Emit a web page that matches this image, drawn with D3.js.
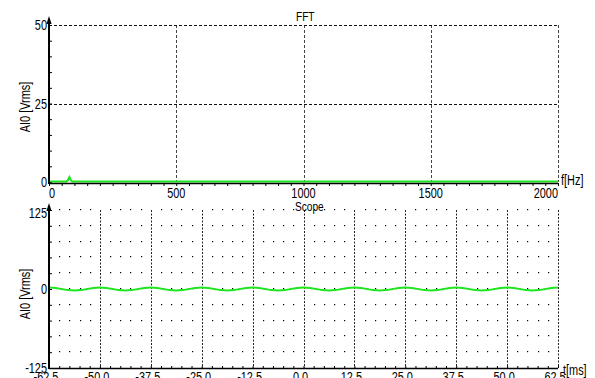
<!DOCTYPE html>
<html>
<head>
<meta charset="utf-8">
<script src="https://cdn.jsdelivr.net/npm/d3@7/dist/d3.min.js"></script>
<style>
  html, body { margin: 0; padding: 0; background: #fff; }
  svg { display: block; }
  text { font-family: "Liberation Sans", Arial, sans-serif; fill: #000; }
</style>
</head>
<body>
<svg id="chart" width="595" height="378"></svg>
<script>
// ---- FFT panel data: amplitude spectrum (Vrms) ----
const fftFreq = [0, 68, 74, 80, 86, 92, 2000];
const fftAmp  = [0, 0, 0.4, 1.4, 0.4, 0, 0];
const fftXTicks = [0, 500, 1000, 1500, 2000];
const fftYTicks = [0, 25, 50];

// ---- Scope panel data: AI0 samples, 1.5625 ms apart starting at -62.5 ms ----
const scopeStart = -62.5;
const scopeStep = 1.5625;
const scopeValues = [
  2.4, 1.7, 0, -1.7, -2.4, -1.7, 0, 1.7,
  2.4, 1.7, 0, -1.7, -2.4, -1.7, 0, 1.7,
  2.4, 1.7, 0, -1.7, -2.4, -1.7, 0, 1.7,
  2.4, 1.7, 0, -1.7, -2.4, -1.7, 0, 1.7,
  2.4, 1.7, 0, -1.7, -2.4, -1.7, 0, 1.7,
  2.4, 1.7, 0, -1.7, -2.4, -1.7, 0, 1.7,
  2.4, 1.7, 0, -1.7, -2.4, -1.7, 0, 1.7,
  2.4, 1.7, 0, -1.7, -2.4, -1.7, 0, 1.7,
  2.4, 1.7, 0, -1.7, -2.4, -1.7, 0, 1.7,
  2.4, 1.7, 0, -1.7, -2.4, -1.7, 0, 1.7,
  2.4
];
const scopeXTicks  = [-62.5, -50, -37.5, -25, -12.5, 0, 12.5, 25, 37.5, 50, 62.5];
const scopeXLabels = ["-62.5", "-50.0", "-37.5", "-25.0", "-12.5", "0.0", "12.5", "25.0", "37.5", "50.0", "62.5"];
const scopeYTicks  = [-125, 0, 125];

const GREEN = "#1ee61e";
const SX = 0.78;           // narrow lettering
const FS = 14;

const svg = d3.select("#chart");
const px = v => Math.round(v) + 0.5;

function label(g, x, y, txt, anchor, size, rot) {
  return g.append("text")
    .attr("transform", `translate(${x},${y})` + (rot ? ` rotate(${rot})` : "") + ` scale(${SX},1)`)
    .attr("text-anchor", anchor)
    .attr("font-size", size || FS)
    .text(txt);
}

function arrowUp(g, x, yTip) {
  g.append("path")
    .attr("d", `M${x},${yTip} L${x - 2.6},${yTip + 8} L${x + 2.6},${yTip + 8} Z`)
    .attr("fill", "#000");
}

// ================= FFT panel =================
const fx = d3.scaleLinear().domain([0, 2000]).range([49, 558]);
const fy = d3.scaleLinear().domain([0, 50]).range([182, 25]);
const gF = svg.append("g");

// dashed grid (incl. top and right border)
gF.selectAll("line.vg").data(fftXTicks.slice(1)).join("line")
  .attr("x1", d => px(fx(d))).attr("x2", d => px(fx(d)))
  .attr("y1", fy(50)).attr("y2", fy(0))
  .attr("stroke", "#444").attr("stroke-width", 1).attr("stroke-dasharray", "3,2");
gF.selectAll("line.hg").data(fftYTicks.slice(1)).join("line")
  .attr("x1", fx(0)).attr("x2", fx(2000))
  .attr("y1", d => px(fy(d))).attr("y2", d => px(fy(d)))
  .attr("stroke", "#111").attr("stroke-width", 1).attr("stroke-dasharray", "3,2");

// minor ticks via d3 axes
const fxMinor = d3.axisBottom(fx).tickValues(d3.range(0, 2001, 50)).tickSize(3).tickFormat("");
gF.append("g").attr("transform", "translate(0,183)").call(fxMinor)
  .call(g => g.select(".domain").remove())
  .call(g => g.selectAll("line").attr("stroke", "#000"));
const fyMinor = d3.axisRight(fy).tickValues(d3.range(0, 51, 5)).tickSize(3).tickFormat("");
gF.append("g").attr("transform", "translate(49,0)").call(fyMinor)
  .call(g => g.select(".domain").remove())
  .call(g => g.selectAll("line").attr("stroke", "#000"));

// spectrum
gF.append("path")
  .datum(fftFreq.map((f, i) => [f, fftAmp[i]]))
  .attr("d", d3.line().x(d => fx(d[0])).y(d => fy(d[1]) - 0.5))
  .attr("fill", "none").attr("stroke", GREEN).attr("stroke-width", 2);

// axis lines
gF.append("line").attr("x1", 49).attr("x2", 558).attr("y1", 183.5).attr("y2", 183.5)
  .attr("stroke", "#000").attr("stroke-width", 1.5);
gF.append("line").attr("x1", 49).attr("x2", 49).attr("y1", 184).attr("y2", 20)
  .attr("stroke", "#000").attr("stroke-width", 2);
arrowUp(gF, 49, 16);

// tick labels
fftYTicks.forEach(v => label(gF, 47, fy(v) + 5, String(v), "end"));
fftXTicks.forEach((v, i) => {
  const anchor = i === 0 ? "start" : (i === fftXTicks.length - 1 ? "end" : "middle");
  label(gF, fx(v), 198, String(v), anchor);
});
label(gF, 561, 185, "f[Hz]", "start");
label(gF, 296, 21, "FFT", "start", 13);
label(gF, 29.5, 107, "AI0 [Vrms]", "middle", 14, -90);

// ================= Scope panel =================
const sx = d3.scaleLinear().domain([-62.5, 62.5]).range([49, 558]);
const sy = d3.scaleLinear().domain([-125, 125]).range([368, 210]);
const gS = svg.append("g");

// dotted vertical division lines
gS.selectAll("line.vd").data(scopeXTicks.slice(1)).join("line")
  .attr("x1", d => px(sx(d))).attr("x2", d => px(sx(d)))
  .attr("y1", sy(125)).attr("y2", sy(-125))
  .attr("stroke", "#222").attr("stroke-width", 1).attr("stroke-dasharray", "2,1.5");

// dot rows at every y division, one dot per 2.5 ms
const dotRows = d3.range(-100, 126, 25);
const dotCols = d3.range(1, 50).filter(k => k % 5 !== 0).map(k => -62.5 + 2.5 * k);
dotRows.forEach(r => {
  gS.selectAll(null).data(dotCols).join("rect")
    .attr("x", d => Math.round(sx(d))).attr("y", Math.round(sy(r)) - 1)
    .attr("width", 1.2).attr("height", 1.2).attr("fill", "#000");
});

// axis ticks
const syMinor = d3.axisRight(sy).tickValues(d3.range(-125, 126, 25)).tickSize(3).tickFormat("");
gS.append("g").attr("transform", "translate(49,0)").call(syMinor)
  .call(g => g.select(".domain").remove())
  .call(g => g.selectAll("line").attr("stroke", "#000"));
const sxMinor = d3.axisTop(sx).tickValues(d3.range(-62.5, 62.6, 2.5)).tickSize(2).tickFormat("");
gS.append("g").attr("transform", "translate(0,368)").call(sxMinor)
  .call(g => g.select(".domain").remove())
  .call(g => g.selectAll("line").attr("stroke", "#000"));

// waveform
gS.append("path")
  .datum(scopeValues.map((v, i) => [scopeStart + i * scopeStep, v]))
  .attr("d", d3.line().x(d => sx(d[0])).y(d => sy(d[1])).curve(d3.curveCatmullRom))
  .attr("fill", "none").attr("stroke", GREEN).attr("stroke-width", 2);

// axis lines
gS.append("line").attr("x1", 49).attr("x2", 558).attr("y1", 368.5).attr("y2", 368.5)
  .attr("stroke", "#000").attr("stroke-width", 1.5);
gS.append("line").attr("x1", 49).attr("x2", 49).attr("y1", 369).attr("y2", 207)
  .attr("stroke", "#000").attr("stroke-width", 2);
arrowUp(gS, 49, 203);

// tick labels
scopeYTicks.forEach(v => {
  const y = v === 125 ? sy(v) + 8 : sy(v) + 5;
  label(gS, 47, y, String(v), "end");
});
scopeXTicks.forEach((v, i) => label(gS, sx(v) - 3, 382, scopeXLabels[i], "middle"));
label(gS, 563, 375, "t[ms]", "start");
label(gS, 295, 211, "Scope", "start", 13);
label(gS, 29.5, 294, "AI0 [Vrms]", "middle", 14, -90);
</script>
</body>
</html>
